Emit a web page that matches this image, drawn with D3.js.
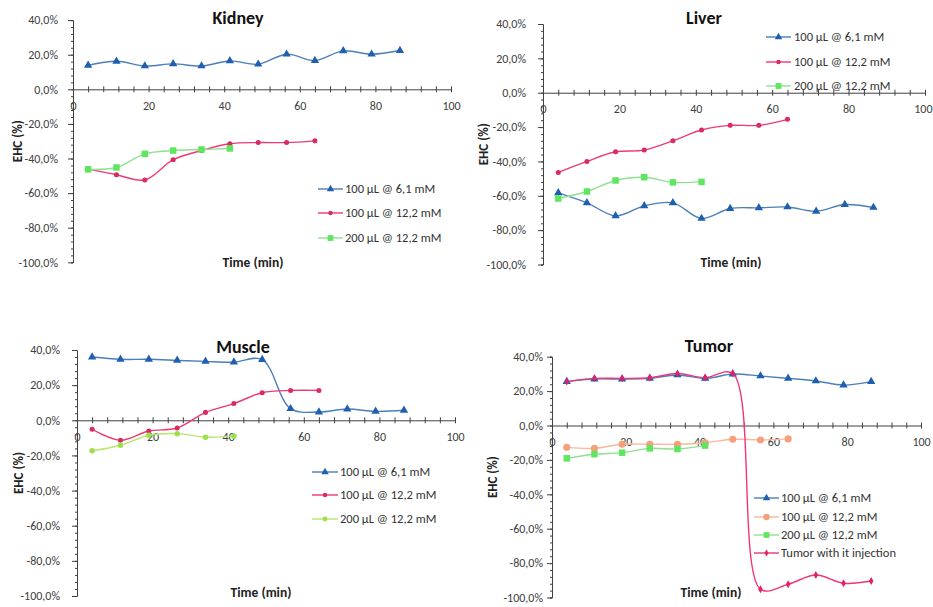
<!DOCTYPE html>
<html><head><meta charset="utf-8">
<script src="https://cdn.jsdelivr.net/npm/d3@7"></script>
<style>body{margin:0;background:#fff}svg{display:block}</style>
</head><body>
<svg id="c" width="933" height="607"></svg>
<script>
// ---- data ----
const times = [4, 11.5, 19, 26.5, 34, 41.5, 49, 56.5, 64, 71.5, 79, 86.5];
const yTickValues = [40, 20, 0, -20, -40, -60, -80, -100];
const xTickValues = [0, 20, 40, 60, 80, 100];
const seriesNames = ["100 µL @ 6,1 mM", "100 µL @ 12,2 mM", "200 µL @ 12,2 mM", "Tumor with it injection"];

const kidney61  = [13.9, 16.2, 13.5, 14.7, 13.5, 16.4, 14.5, 20.3, 16.6, 22.2, 20.3, 22.4];
const kidney122 = [-46, -49.4, -52.4, -40.7, -35.4, -31.5, -30.8, -30.8, -29.8];
const kidney200 = [-46.3, -45.2, -37.3, -35.4, -34.8, -34.2];

const liver61  = [-58.3, -64.1, -71.7, -65.9, -64.1, -73.2, -67.4, -67, -66.5, -69, -65.1, -66.8];
const liver122 = [-46.4, -40, -34.4, -33.4, -28, -21.7, -19, -19, -15.5];
const liver200 = [-61.6, -57.5, -51.1, -49.2, -52.2, -51.9];

const muscle61  = [36, 34.7, 34.7, 34.1, 33.5, 33.1, 34.5, 6.6, 4.7, 6.4, 5.1, 5.7];
const muscle122 = [-5.1, -11.4, -6.1, -4.4, 4.5, 9.5, 15.7, 17, 17];
const muscle200 = [-17.4, -14.2, -8.5, -7.6, -9.6, -9];

const tumor61  = [25.5, 27, 27, 27.4, 29.4, 27.4, 29.9, 28.8, 27.4, 25.9, 23.5, 25.5];
const tumor122 = [-12.7, -13.3, -10.9, -10.9, -10.9, -10, -8, -8.4, -7.8];
const tumor200 = [-19.1, -16.7, -15.8, -13.3, -13.7, -11.7];
const tumorIt  = [25.5, 27.4, 27.4, 27.8, 30.2, 27.8, 30.2, -95.2, -92.3, -86.9, -91.7, -90.4];

// ---- styles ----
const S = {
  blue:   {line:"#4a7fb8", mark:"#1f5fb0", sym:d3.symbolTriangle, size:30},
  pink:   {line:"#ee3a73", mark:"#d92a62", sym:d3.symbolCircle,   size:20},
  green:  {line:"#90e090", mark:"#5ee65e", sym:d3.symbolSquare,   size:42},
  lime:   {line:"#b5e86a", mark:"#9ee04a", sym:d3.symbolCircle,   size:24},
  orange: {line:"#f7b99a", mark:"#f4a07c", sym:d3.symbolCircle,   size:40},
  magenta:{line:"#f0357a", mark:"#e0226a", sym:d3.symbolDiamond,  size:18}
};

const panels = [
  {title:"Kidney", x0:73, x1:451, yTop:20.1, yBot:262.3, gap:10, titleX:238, titleY:24,
   timeX:253, timeY:267, ehcX:17,
   series:[[kidney61,S.blue,0],[kidney122,S.pink,1],[kidney200,S.green,2]],
   legend:{lx0:318, lx1:343, tx:345, ys:[189, 213, 238]}},
  {title:"Liver", x0:543, x1:925, yTop:24, yBot:264.5, gap:12, titleX:704, titleY:24,
   timeX:731, timeY:267, ehcX:483,
   series:[[liver61,S.blue,0],[liver122,S.pink,1],[liver200,S.green,2]],
   legend:{lx0:766, lx1:791, tx:794, ys:[37, 62, 86]}},
  {title:"Muscle", x0:77, x1:455, yTop:350, yBot:596, gap:12, titleX:243, titleY:353,
   timeX:261, timeY:597, ehcX:18,
   series:[[muscle61,S.blue,0],[muscle122,S.pink,1],[muscle200,S.lime,2]],
   legend:{lx0:312, lx1:338, tx:340, ys:[472, 495, 519]}},
  {title:"Tumor", x0:552, x1:921, yTop:356.7, yBot:597.5, gap:4, titleX:709, titleY:352,
   timeX:711, timeY:597, ehcX:492,
   series:[[tumor61,S.blue,0],[tumor122,S.orange,1],[tumor200,S.green,2],[tumorIt,S.magenta,3]],
   legend:{lx0:754, lx1:779, tx:781, ys:[498, 517, 535, 553]}}
];

const svg = d3.select("#c");
const W = 933;
const font = "Carlito, Calibri, Lato, 'Open Sans', sans-serif";
const fmt = v => d3.format(".1f")(v).replace(".", ",").replace("−","-") + "%";

panels.forEach(p => {
  const g = svg.append("g");
  const x = d3.scaleLinear().domain([0,100]).range([p.x0, p.x1]);
  const y = d3.scaleLinear().domain([40,-100]).range([p.yTop, p.yBot]);

  // y axis
  const ya = g.append("g").attr("transform", `translate(${p.x0},0)`)
    .call(d3.axisLeft(y).tickValues(d3.range(-100, 40.001, 4)).tickSize(2).tickFormat(""));
  ya.select(".domain").attr("stroke","#404040");
  ya.selectAll(".tick line").attr("stroke","#404040");
  const yl = g.append("g").attr("transform", `translate(${p.x0},0)`)
    .call(d3.axisLeft(y).tickValues(yTickValues).tickSize(5).tickPadding(p.gap).tickFormat(fmt));
  yl.select(".domain").remove();
  yl.selectAll(".tick line").attr("stroke","#404040");
  yl.selectAll("text").attr("font-family", font).attr("font-size", 12).attr("fill","#404040");

  // x axis at 0
  const xa = g.append("g").attr("transform", `translate(0,${y(0)})`)
    .call(d3.axisBottom(x).tickValues(d3.range(0, 100.001, 4)).tickSizeInner(3).tickSizeOuter(0).tickFormat(""));
  xa.select(".domain").attr("stroke","#404040");
  xa.selectAll(".tick line").attr("stroke","#404040").attr("y1",-3);
  const xl = g.append("g").attr("transform", `translate(0,${y(0)})`)
    .call(d3.axisBottom(x).tickValues(xTickValues).tickSize(0).tickPadding(12).tickFormat(d3.format("d")));
  xl.select(".domain").remove();
  xl.selectAll("text").attr("font-family", font).attr("font-size", 12).attr("fill","#404040");
  // keep labels inside the page
  xl.selectAll(".tick").each(function(d) {
    const t = d3.select(this).select("text");
    const bb = this.getBBox();
    const right = x(d) + bb.width / 2;
    if (right > W - 1) t.attr("x", (W - 1) - right);
  });

  // series
  p.series.forEach(([vals, st]) => {
    const pts = vals.map((v,i) => [times[i], v]);
    g.append("path").datum(pts)
      .attr("fill","none").attr("stroke", st.line).attr("stroke-width", 1.4)
      .attr("d", d3.line().x(d=>x(d[0])).y(d=>y(d[1])).curve(d3.curveCatmullRom.alpha(0.5)));
    g.selectAll(null).data(pts).enter().append("path")
      .attr("transform", d => `translate(${x(d[0])},${y(d[1])})`)
      .attr("d", d3.symbol().type(st.sym).size(st.size))
      .attr("fill", st.mark);
  });

  // legend
  p.series.forEach(([vals, st, ni], k) => {
    const ly = p.legend.ys[k];
    g.append("line").attr("x1", p.legend.lx0).attr("x2", p.legend.lx1)
      .attr("y1", ly).attr("y2", ly).attr("stroke", st.line).attr("stroke-width", 1.4);
    g.append("path").attr("transform", `translate(${(p.legend.lx0+p.legend.lx1)/2},${ly})`)
      .attr("d", d3.symbol().type(st.sym).size(st.size*0.8)).attr("fill", st.mark);
    g.append("text").attr("x", p.legend.tx).attr("y", ly).attr("dy","0.35em")
      .attr("font-family", font).attr("font-size", 12.5).attr("fill","#333")
      .text(seriesNames[ni]);
  });

  // titles
  g.append("text").attr("x", p.titleX).attr("y", p.titleY).attr("text-anchor","middle")
    .attr("font-family", font).attr("font-size", 18).attr("font-weight","bold").attr("fill","#111")
    .text(p.title);
  g.append("text").attr("x", p.timeX).attr("y", p.timeY).attr("text-anchor","middle")
    .attr("font-family", font).attr("font-size", 13.5).attr("font-weight","bold").attr("fill","#222")
    .text("Time (min)");
  const cy = (p.yTop + p.yBot) / 2;
  g.append("text").attr("transform", `translate(${p.ehcX},${cy}) rotate(-90)`)
    .attr("text-anchor","middle").attr("dy","0.35em")
    .attr("font-family", font).attr("font-size", 13).attr("font-weight","bold").attr("fill","#222")
    .text("EHC (%)");
});
</script>
</body></html>
